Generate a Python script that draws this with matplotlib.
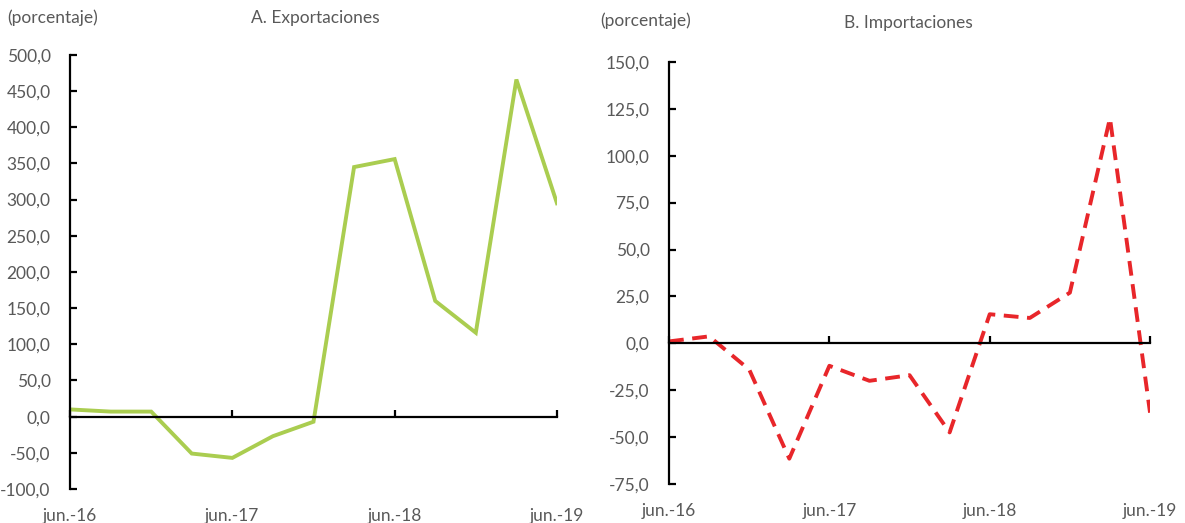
import numpy as np
import matplotlib.pyplot as plt
from matplotlib.ticker import FuncFormatter

plt.rcParams['font.family'] = ['Lato', 'DejaVu Sans']

# quarterly, jun-16 .. jun-19
quarters = ["jun.-16", "sep.-16", "dic.-16", "mar.-17", "jun.-17", "sep.-17", "dic.-17",
            "mar.-18", "jun.-18", "sep.-18", "dic.-18", "mar.-19", "jun.-19"]
exportaciones = [10, 7, 7, -51, -57, -27, -7, 345, 356, 160, 116, 466, 295]
importaciones = [1, 3.7, -14, -61.5, -12, -20, -17, -47.5, 15.5, 13.5, 27, 120, -37]

year_ticks = [0, 4, 8, 12]
year_labels = [quarters[i] for i in year_ticks]

gray = '#595959'


def comma_fmt(v, pos):
    return "{:.1f}".format(v).replace(".", ",")


def style_axis(ax, ylim, ystep):
    x = np.arange(len(quarters))
    ax.set_xlim(x[0], x[-1])
    ax.set_ylim(*ylim)
    ax.set_yticks(np.arange(ylim[0], ylim[1] + ystep / 2, ystep))
    ax.yaxis.set_major_formatter(FuncFormatter(comma_fmt))
    ax.spines['top'].set_visible(False)
    ax.spines['right'].set_visible(False)
    ax.spines['bottom'].set_position(('data', 0))
    ax.spines['left'].set_linewidth(1.6)
    ax.spines['bottom'].set_linewidth(1.6)
    ax.set_xticks(year_ticks)
    ax.tick_params(axis='x', direction='in', length=5, width=1.6, labelbottom=False)
    ax.tick_params(axis='y', direction='in', length=5, width=1.6, labelsize=12.5,
                   labelcolor=gray, pad=14)
    sec = ax.secondary_xaxis('bottom')
    sec.set_xticks(year_ticks)
    sec.set_xticklabels(year_labels)
    sec.spines['bottom'].set_visible(False)
    sec.tick_params(length=0, labelsize=12.5, labelcolor=gray, pad=14)
    return x


fig = plt.figure(figsize=(11.85, 5.23), dpi=100)

ax1 = fig.add_axes([0.0591, 0.065, 0.4109, 0.830])
x = style_axis(ax1, (-100, 500), 50)
ax1.plot(x, exportaciones, color='#AACD50', lw=2.8, solid_joinstyle='miter')

ax2 = fig.add_axes([0.5646, 0.0746, 0.4059, 0.807])
x = style_axis(ax2, (-75, 150), 25)
ax2.plot(x, importaciones, color='#E8262A', lw=2.8, dashes=(3.8, 2.2))

fig.text(7 / 1185, 1 - 18 / 523, "(porcentaje)", color=gray, fontsize=12.5, va='center')
fig.text(315 / 1185, 1 - 18 / 523, "A. Exportaciones", color=gray, fontsize=12.5,
         va='center', ha='center')
fig.text(600 / 1185, 1 - 21 / 523, "(porcentaje)", color=gray, fontsize=12.5, va='center')
fig.text(908 / 1185, 1 - 23 / 523, "B. Importaciones", color=gray, fontsize=12.5,
         va='center', ha='center')

fig.savefig("out.png", dpi=100)
